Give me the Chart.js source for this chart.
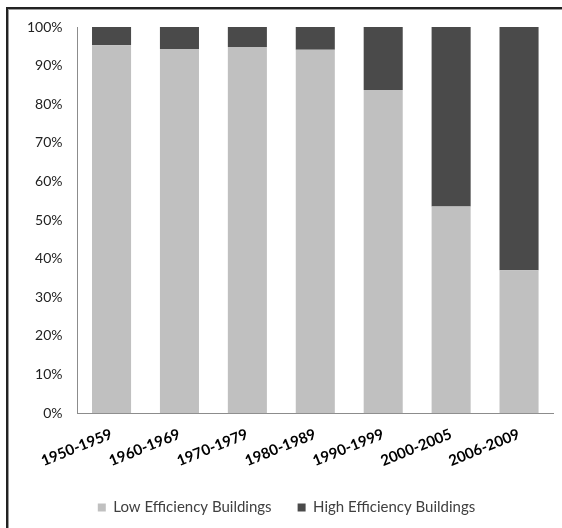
<!DOCTYPE html>
<html>
<head>
<meta charset="utf-8">
<script src="https://cdn.jsdelivr.net/npm/chart.js@4/dist/chart.umd.min.js"></script>
<style>
  html, body { margin: 0; padding: 0; background: #fff; }
  #wrap { position: relative; width: 562px; height: 528px; overflow: hidden; }
  #frame {
    position: absolute; left: 6px; top: 7px; width: 700px; height: 700px;
    border-top: 2px solid #222; border-left: 2px solid #222;
    box-shadow: inset 1px 1px 0 #9a9a9a;
    pointer-events: none;
  }
  canvas { position: absolute; left: 0; top: 0; }
</style>
</head>
<body>
<div id="wrap">
  <canvas id="chart" width="562" height="528"></canvas>
  <div id="frame"></div>
</div>
<script>
// Share of buildings by efficiency class, per construction period (percent)
const periods = ['1950-1959', '1960-1969', '1970-1979', '1980-1989', '1990-1999', '2000-2005', '2006-2009'];
const lowEfficiency = [95.3, 94.3, 94.8, 94.1, 83.7, 53.5, 37.0];
const highEfficiency = [4.7, 5.7, 5.2, 5.9, 16.3, 46.5, 63.0];
const percentTicks = [0, 10, 20, 30, 40, 50, 60, 70, 80, 90, 100];

const baseFont = "Lato, 'Open Sans', sans-serif";

new Chart(document.getElementById('chart'), {
  type: 'bar',
  data: {
    labels: periods,
    datasets: [
      {
        label: 'Low Efficiency Buildings',
        data: lowEfficiency,
        backgroundColor: '#c0c0c0',
        borderWidth: 0
      },
      {
        label: 'High Efficiency Buildings',
        data: highEfficiency,
        backgroundColor: '#4a4a4a',
        borderWidth: 0
      }
    ]
  },
  options: {
    responsive: false,
    animation: false,
    layout: { padding: { left: 20, right: 9, top: 27, bottom: 3 } },
    datasets: {
      bar: { categoryPercentage: 1.0, barPercentage: 0.575 }
    },
    scales: {
      x: {
        stacked: true,
        grid: { display: false },
        border: { display: true, color: '#8c8c8c', width: 1 },
        ticks: {
          minRotation: 22, maxRotation: 22,
          padding: 4,
          color: '#000',
          font: { family: baseFont, size: 15, weight: 'bold' }
        }
      },
      y: {
        stacked: true,
        min: 0, max: 100,
        afterBuildTicks: (axis) => { axis.ticks = percentTicks.map(v => ({ value: v })); },
        grid: { display: false },
        border: { display: true, color: '#8c8c8c', width: 1 },
        ticks: {
          padding: 7,
          color: '#222',
          font: { family: baseFont, size: 14 },
          callback: (v) => v + '%'
        }
      }
    },
    plugins: {
      tooltip: { enabled: false },
      legend: {
        position: 'bottom',
        labels: {
          boxWidth: 8, boxHeight: 8,
          padding: 26,
          color: '#404040',
          font: { family: baseFont, size: 15 }
        }
      }
    }
  }
});
</script>
</body>
</html>
